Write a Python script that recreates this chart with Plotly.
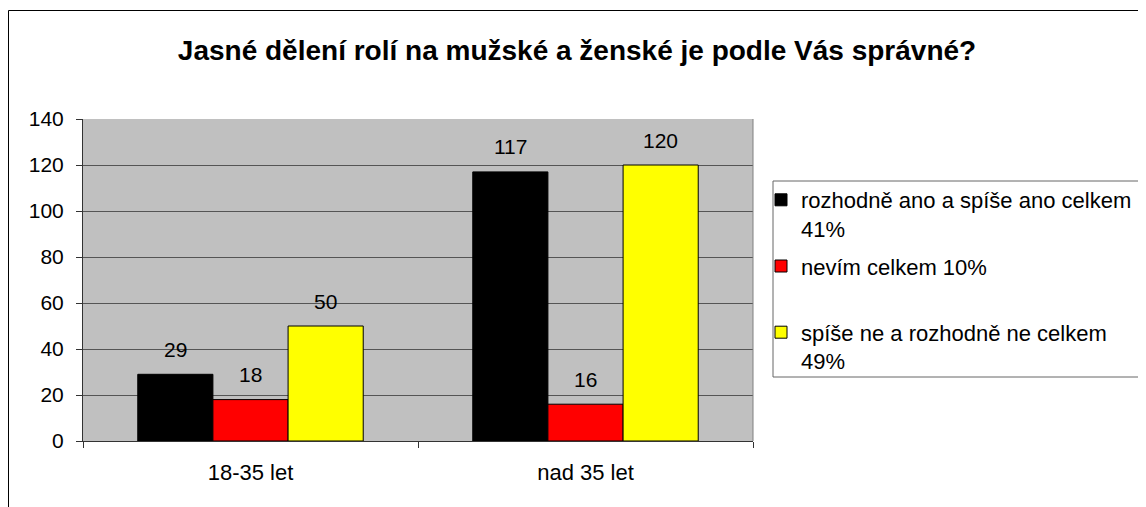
import plotly.graph_objects as go

title_text = "Jasné dělení rolí na mužské a ženské je podle Vás správné?"
categories = ["18-35 let", "nad 35 let"]
series_names = [
    "rozhodně ano a spíše ano celkem<br>41%",
    "nevím celkem 10%<br> ",
    "spíše ne a rozhodně ne celkem<br>49%",
]
series_values = [
    [29, 117],
    [18, 16],
    [50, 120],
]
series_colors = ["#000000", "#ff0000", "#ffff00"]
y_ticks = [0, 20, 40, 60, 80, 100, 120, 140]

FONT = "Liberation Sans, Arial, sans-serif"
W, H = 1146, 507
OFF = 8  # page body margin
L, R, T, B = 75, 401, 111, 74
pw, ph = W - L - R, H - T - B
bargap = 0.327
n = len(series_values)
bw = (1 - bargap) / n


def px_x(x):
    return (x - OFF - L) / pw


def px_y(y):
    return (H - B - (y - OFF)) / ph


fig = go.Figure()
for i, (name, vals, col) in enumerate(zip(series_names, series_values, series_colors)):
    fig.add_trace(go.Bar(
        x=categories, y=vals, name=name,
        marker=dict(color=col, line=dict(color="#000000", width=1)),
        legendgroup=f"g{i}",
    ))

annotations = []
for i, vals in enumerate(series_values):
    for j, v in enumerate(vals):
        annotations.append(dict(
            x=j + (i - (n - 1) / 2) * bw, y=v, xref="x", yref="y",
            text=str(v), showarrow=False, yanchor="middle", yshift=25,
            font=dict(family=FONT, size=21, color="#000000"),
        ))

shapes = [
    dict(type="rect", xref="paper", yref="paper",
         x0=px_x(8.5), x1=px_x(1170), y0=px_y(530), y1=px_y(10.5),
         line=dict(color="#000000", width=1), fillcolor="rgba(0,0,0,0)", layer="above"),
    dict(type="rect", xref="paper", yref="paper",
         x0=px_x(773), x1=px_x(1145.5), y0=px_y(377), y1=px_y(181),
         line=dict(color="#666666", width=1), fillcolor="rgba(0,0,0,0)", layer="above"),
    dict(type="line", xref="paper", yref="paper", x0=1, x1=1, y0=0, y1=1,
         line=dict(color="#808080", width=1)),
]

fig.update_layout(
    width=W, height=H,
    margin=dict(l=L, r=R, t=T, b=B, pad=0),
    paper_bgcolor="#ffffff", plot_bgcolor="#c0c0c0",
    barmode="group", bargap=bargap, bargroupgap=0,
    title=dict(text=f"<b>{title_text}</b>", xref="container", yref="container",
               x=(577 - OFF) / W, xanchor="center",
               y=1 - (50 - OFF) / H, yanchor="middle",
               font=dict(family=FONT, size=28, color="#000000")),
    font=dict(family=FONT, size=21, color="#000000"),
    showlegend=True,
    legend=dict(x=px_x(761), y=px_y(179), xanchor="left", yanchor="top",
                bgcolor="rgba(0,0,0,0)", borderwidth=0, valign="top",
                tracegroupgap=6, traceorder="grouped",
                font=dict(family=FONT, size=22, color="#000000")),
    annotations=annotations,
    shapes=shapes,
    xaxis=dict(type="category", showgrid=False, tickson="boundaries",
               ticks="outside", ticklen=6, tickcolor="#333333", tickwidth=1,
               showline=True, linecolor="#333333", linewidth=1,
               ticklabelstandoff=12, fixedrange=True,
               tickfont=dict(family=FONT, size=22, color="#000000")),
    yaxis=dict(range=[0, 140], tickvals=y_ticks, ticks="outside", ticklen=6,
               tickcolor="#333333", showgrid=True, gridcolor="#555555", gridwidth=1,
               showline=True, linecolor="#333333", linewidth=1, mirror=False,
               zeroline=False, ticklabelstandoff=8, fixedrange=True,
               tickfont=dict(family=FONT, size=21, color="#000000")),
)

fig.write_html("out.html")
